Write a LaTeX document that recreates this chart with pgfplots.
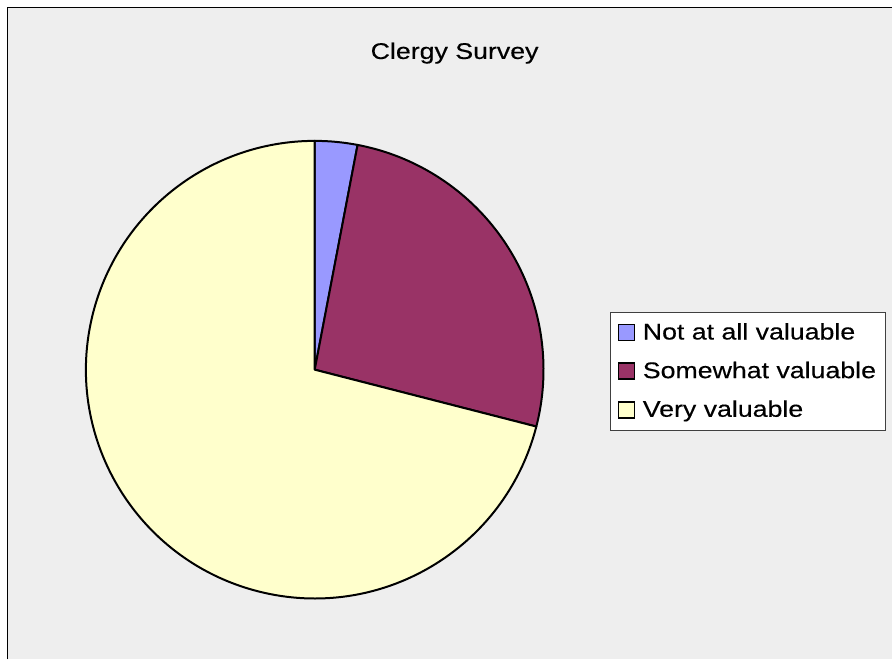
\documentclass[border=0pt]{standalone}
\usepackage{fontspec}
\setmainfont{Liberation Sans}
\newfontfamily\chartfont[FakeStretch=1.18, FakeBold=0.35]{Liberation Sans}
\usepackage{pgfplots}
\usepackage{pgfplotstable}
\pgfplotsset{compat=1.18}

\definecolor{bggray}{HTML}{EEEEEE}
\definecolor{sliceA}{HTML}{9999FF}
\definecolor{sliceB}{HTML}{993366}
\definecolor{sliceC}{HTML}{FFFFCC}

% survey answers (percent)
\pgfplotstableread[col sep=comma]{
label,value,color
Not at all valuable,3,sliceA
Somewhat valuable,26,sliceB
Very valuable,71,sliceC
}\survey

\begin{document}
\begin{tikzpicture}
  \begin{axis}[
      x=0.75pt, y=0.75pt,
      xmin=0, xmax=893, ymin=0, ymax=660,
      scale only axis, hide axis, clip=false,
      legend style={
        at={(axis description cs:0.6842,0.5273)}, anchor=north west,
        draw=black!75, line width=0.75pt, fill=white,
        inner xsep=5pt, inner ysep=5.5pt, row sep=9.5pt,
        nodes={inner sep=2pt, text height=13pt, text depth=2.5pt},
        font=\chartfont\fontsize{17}{20}\selectfont},
      legend cell align=left,
      legend image code/.code={
        \draw[#1, line width=1.1pt] (0pt,-6pt) rectangle (12pt,6pt);
        \path (16pt,0pt);},
    ]
    % background frame
    \fill[white] (axis cs:0,0) rectangle (axis cs:893,660);
    \fill[bggray] (axis cs:7,0) rectangle (axis cs:893,653);
    \draw[line width=1.2pt] (axis cs:7.5,0) -- (axis cs:7.5,652.5) -- (axis cs:893,652.5);

    \node[anchor=base, font=\chartfont\fontsize{17}{20}\selectfont] at (axis cs:455,601) {Clergy Survey};

    % total
    \pgfplotstablegetrowsof{\survey}
    \pgfmathtruncatemacro\nrows{\pgfplotsretval-1}
    \def\total{0}
    \pgfplotsforeachungrouped \i in {0,...,\nrows}{%
      \pgfplotstablegetelem{\i}{value}\of\survey
      \pgfmathsetmacro\total{\total+\pgfplotsretval}%
    }
    % slices, clockwise from 12 o'clock
    \def\cum{0}
    \pgfplotsforeachungrouped \i in {0,...,\nrows}{%
      \pgfplotstablegetelem{\i}{value}\of\survey
      \let\val\pgfplotsretval
      \pgfplotstablegetelem{\i}{color}\of\survey
      \let\col\pgfplotsretval
      \pgfplotstablegetelem{\i}{label}\of\survey
      \let\lab\pgfplotsretval
      \pgfmathsetmacro\aA{90-360*(\cum/\total)}%
      \pgfmathsetmacro\cum{\cum+\val}%
      \pgfmathsetmacro\aB{90-360*(\cum/\total)}%
      \edef\cmd{%
        \noexpand\filldraw[fill=\col, draw=black, line width=1.5pt, line join=round]
          (axis cs:315,290) -- ++(\aA:171.75pt)
          arc[start angle=\aA, end angle=\aB, radius=171.75pt] -- cycle;
        \noexpand\addlegendimage{fill=\col, draw=black}
        \noexpand\addlegendentry{\lab}%
      }\cmd
    }
  \end{axis}
\end{tikzpicture}
\end{document}
